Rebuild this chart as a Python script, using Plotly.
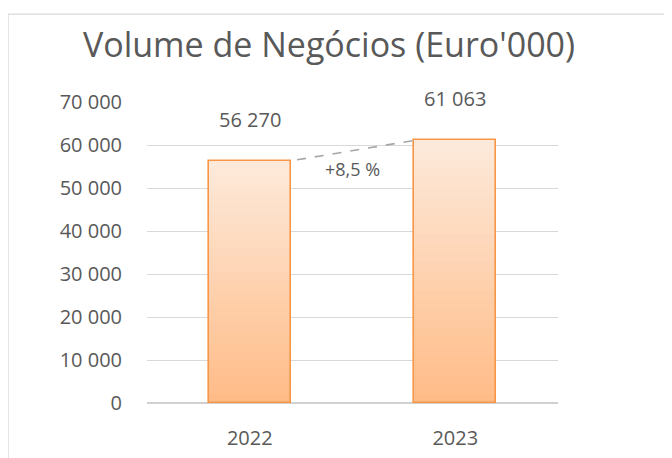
import plotly.graph_objects as go

# ---- data ----
years = ["2022", "2023"]
values = [56270, 61063]
title_text = "Volume de Negócios (Euro'000)"
y_ticks = [0, 10000, 20000, 30000, 40000, 50000, 60000, 70000]

xpos = list(range(len(years)))
bar_w = 0.4
text_color = "#595959"
font_family = "Open Sans, Lato, sans-serif"

fig = go.Figure()

# gradient fill built from overlaid bars (light top -> orange bottom)
top_rgb = (253, 233, 218)
bot_rgb = (255, 188, 136)
N = 28
for k in range(N):
    f = 1 - k / N
    t = k / (N - 1)
    c = tuple(round(top_rgb[i] + (bot_rgb[i] - top_rgb[i]) * t) for i in range(3))
    fig.add_trace(go.Bar(
        x=xpos, y=[v * f for v in values], width=bar_w,
        marker=dict(color="rgb(%d,%d,%d)" % c, line=dict(width=0)),
        hoverinfo="skip", showlegend=False,
    ))

# outline
fig.add_trace(go.Bar(
    x=xpos, y=values, width=bar_w,
    marker=dict(color="rgba(0,0,0,0)", line=dict(color="#F79646", width=1.6)),
    showlegend=False,
))

# dashed connector between bar tops
fig.add_trace(go.Scatter(
    x=[xpos[0] + bar_w / 2 + 0.03, xpos[1] - bar_w / 2],
    y=[values[0] * 1.005, values[1]],
    mode="lines", line=dict(color="#A6A6A6", width=1.6, dash="dash"),
    hoverinfo="skip", showlegend=False,
))

# data labels
for x, v in zip(xpos, values):
    fig.add_annotation(
        x=x, y=v, text=f"{v:,}".replace(",", " "), showarrow=False,
        yanchor="middle", yshift=42,
        font=dict(family=font_family, size=20, color=text_color),
    )

growth = (values[1] / values[0] - 1) * 100
fig.add_annotation(
    x=(xpos[0] + xpos[1]) / 2, y=(values[0] + values[1]) / 2,
    text=("+%.1f %%" % growth).replace(".", ","), showarrow=False,
    yanchor="middle", yshift=-18,
    font=dict(family=font_family, size=18, color=text_color),
)

# chart border
fig.add_shape(type="rect", xref="paper", yref="paper",
              x0=-0.338, x1=1.273, y0=-0.3, y1=1.292,
              line=dict(color="#D9D9D9", width=1.2), fillcolor="rgba(0,0,0,0)",
              layer="below")

fig.update_layout(
    width=672, height=458,
    margin=dict(l=139, r=122, t=94, b=63),
    barmode="overlay", bargap=0,
    plot_bgcolor="white", paper_bgcolor="white",
    separators=", ",
    title=dict(text=title_text, x=321 / 672, xanchor="center", y=1 - 37 / 458, yanchor="middle",
               font=dict(family=font_family, size=34, color=text_color)),
    font=dict(family=font_family, color=text_color),
    showlegend=False,
)
fig.update_xaxes(
    range=[-0.5, 1.5], tickvals=xpos, ticktext=years,
    showgrid=False, zeroline=False, showline=False, ticks="",
    ticklabelstandoff=21,
    tickfont=dict(family=font_family, size=20, color=text_color),
)
fig.update_yaxes(
    range=[0, 70000], tickvals=y_ticks, tickformat=",d",
    showgrid=True, gridcolor="#D9D9D9", gridwidth=1.2,
    zeroline=True, zerolinecolor="#D0D0D0", zerolinewidth=1.6,
    showline=False, ticks="", ticklabelstandoff=24,
    tickfont=dict(family=font_family, size=20, color=text_color),
)

fig.write_html("out.html")
